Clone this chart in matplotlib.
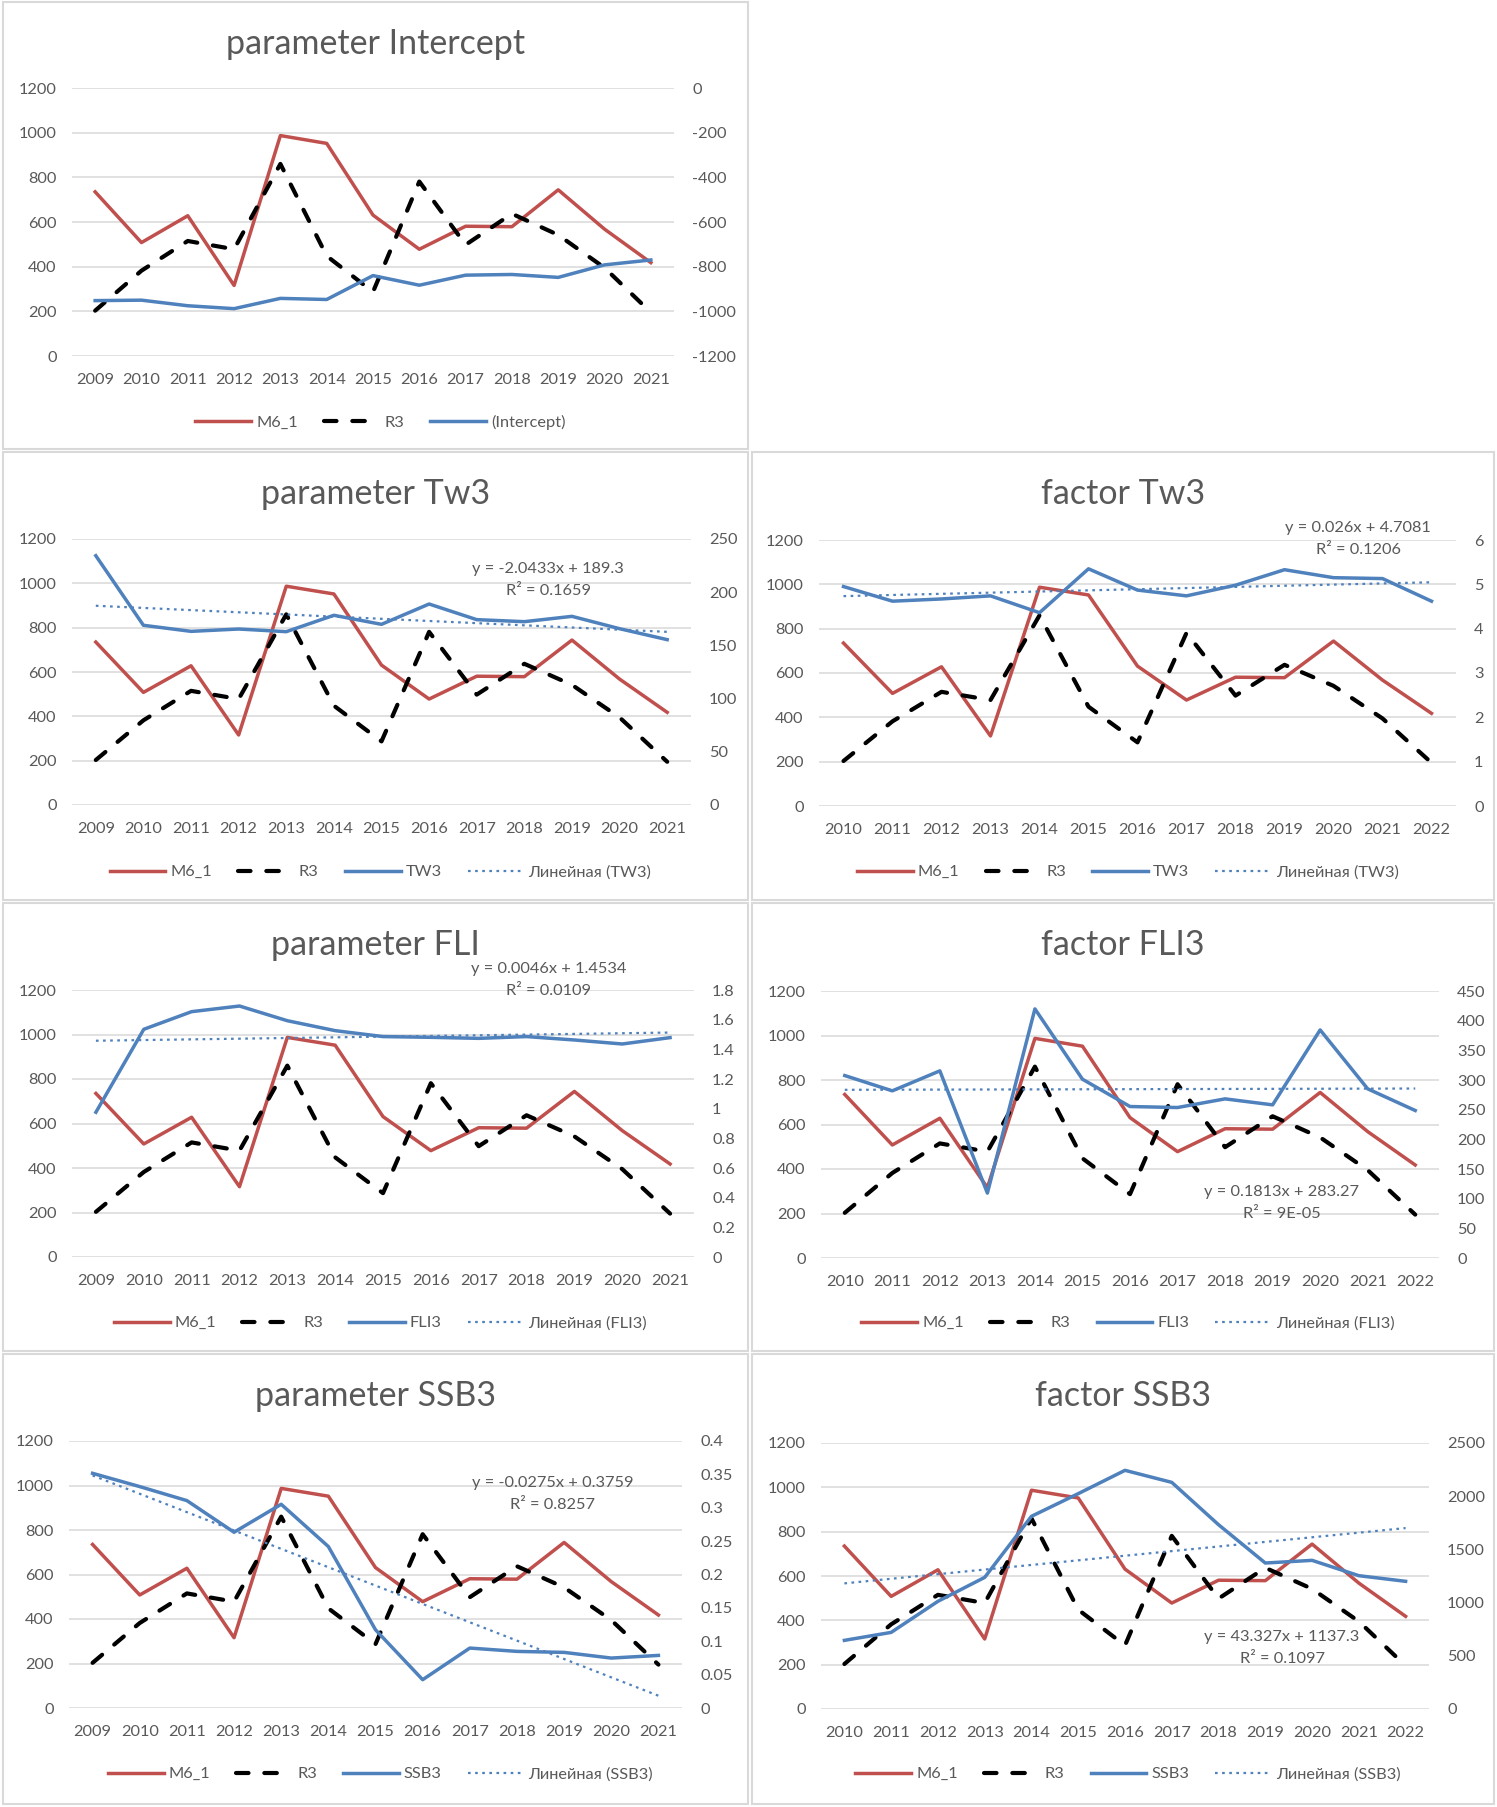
import matplotlib
matplotlib.use("Agg")
import matplotlib.pyplot as plt
from matplotlib.patches import Rectangle
import numpy as np

plt.rcParams["font.family"] = ["Lato", "DejaVu Sans"]

W, H = 1497, 1807
TXT = "#595959"
GRID = "#D9D9D9"
BORDER = "#D9D9D9"
RED = "#C0504D"
BLUE = "#4F81BD"

# --- data ---
YEARS_PARAM = ["2009", "2010", "2011", "2012", "2013", "2014", "2015",
               "2016", "2017", "2018", "2019", "2020", "2021"]
YEARS_FACTOR = ["2010", "2011", "2012", "2013", "2014", "2015", "2016",
                "2017", "2018", "2019", "2020", "2021", "2022"]

M6_1 = [735, 508, 628, 316, 987, 952, 631, 478, 581, 579, 744, 568, 418]
R3 = [203, 382, 515, 478, 860, 448, 287, 781, 498, 637, 542, 395, 195]

INTERCEPT = [-952, -950, -975, -988, -942, -947, -840, -883, -838, -835, -848, -792, -770]
TW3_PARAM = [234.3, 168.9, 163.2, 165.4, 162.9, 178.3, 169.8, 188.9, 174.2, 172.3, 177.3, 165.7, 155.4]
TW3_FACTOR = [4.95, 4.62, 4.67, 4.74, 4.36, 5.35, 4.87, 4.74, 4.98, 5.33, 5.15, 5.13, 4.62]
FLI_PARAM = [0.976, 1.535, 1.654, 1.692, 1.593, 1.526, 1.486, 1.481, 1.474, 1.486, 1.463, 1.436, 1.479]
FLI3_FACTOR = [307.5, 281.7, 315.4, 109.4, 419.8, 301.3, 255.3, 253.6, 268.2, 258.1, 384.4, 285.1, 248.6]
SSB3_PARAM = [0.3516, 0.3317, 0.3107, 0.2633, 0.3052, 0.2419, 0.1172, 0.0424, 0.0898, 0.0848, 0.0833, 0.0748, 0.0788]
SSB3_FACTOR = [645, 720, 1012, 1237, 1811, 2024, 2243, 2130, 1732, 1372, 1397, 1253, 1200]

# linear trendlines as printed on the charts: (slope, intercept, R^2 text)
TREND_TW3_PARAM = (-2.0433, 189.3, "0.1659")
TREND_TW3_FACTOR = (0.026, 4.7081, "0.1206")
TREND_FLI_PARAM = (0.0046, 1.4534, "0.0109")
TREND_FLI3_FACTOR = (0.1813, 283.27, "9E-05")
TREND_SSB3_PARAM = (-0.0275, 0.3759, "0.8257")
TREND_SSB3_FACTOR = (43.327, 1137.3, "0.1097")

fig = plt.figure(figsize=(W / 100, H / 100), dpi=100)


def frac(x0, y0, x1, y1):
    return [x0 / W, 1 - y1 / H, (x1 - x0) / W, (y1 - y0) / H]


def draw_panel(box, plot, title, years, blue, blue_name, rax, trend=None, eq_xy=None):
    bx0, by0, bx1, by1 = box
    fig.add_artist(Rectangle((bx0 / W, 1 - by1 / H), (bx1 - bx0) / W, (by1 - by0) / H,
                             transform=fig.transFigure, fill=False, ec=BORDER, lw=1.5))
    cx = (bx0 + bx1) / 2
    fig.text(cx / W, 1 - (by0 + 42) / H, title, ha="center", va="center",
             fontsize=24.5, color=TXT)

    ax = fig.add_axes(frac(*plot))
    x = np.arange(len(years))
    l1, = ax.plot(x, M6_1, color=RED, lw=2.5, label="M6_1")
    l2, = ax.plot(x, R3, color="black", lw=3.0, ls=(0, (3.0, 3.8)),
                  dash_capstyle="round", label="R3")
    ax.set_xlim(-0.5, len(years) - 0.5)
    ax.set_ylim(0, 1200)
    ax.set_yticks(np.arange(0, 1201, 200))
    ax.set_xticks(x, years)
    ax.grid(axis="y", color=GRID, lw=1.1)
    ax.set_axisbelow(True)
    for s in ax.spines.values():
        s.set_visible(False)
    ax.tick_params(axis="y", length=0, labelsize=11.8, colors=TXT, pad=11)
    ax.tick_params(axis="x", length=0, labelsize=11.8, colors=TXT, pad=12)

    ax2 = ax.twinx()
    lo, hi, step = rax
    l3, = ax2.plot(x, blue, color=BLUE, lw=2.5, label=blue_name)
    handles = [l1, l2, l3]
    ax2.set_ylim(lo, hi)
    ticks = np.arange(lo, hi + step / 2, step)
    ax2.set_yticks(ticks, [f"{round(t, 4):g}" for t in ticks])
    for s in ax2.spines.values():
        s.set_visible(False)
    ax2.tick_params(axis="y", length=0, labelsize=11.8, colors=TXT, pad=13)

    if trend is not None:
        a, b, r2 = trend
        xt = np.array([1, len(years)])
        l4, = ax2.plot(xt - 1, a * xt + b, color=BLUE, lw=1.6, ls=(0, (1.2, 2.0)),
                       label=f"Линейная ({blue_name})")
        handles.append(l4)
        ex, ey = eq_xy
        fig.text(ex / W, 1 - ey / H, f"y = {a:g}x + {b:g}", ha="center", va="center",
                 fontsize=11.8, color=TXT)
        fig.text(ex / W, 1 - (ey + 22) / H, f"R² = {r2}", ha="center", va="center",
                 fontsize=11.8, color=TXT)

    ax.legend(handles=handles, loc="center", bbox_to_anchor=((cx + 5) / W, 1 - (by0 + 420) / H),
              bbox_transform=fig.transFigure, ncol=len(handles), frameon=False,
              fontsize=11.8, handlelength=3.4, handletextpad=0.3, columnspacing=1.6,
              labelcolor=TXT)


ROWS = [(2, 449), (452, 900), (903, 1351), (1354, 1804)]
LEFT = (3, 748)
RIGHT = (752, 1494)

draw_panel((LEFT[0], ROWS[0][0], LEFT[1], ROWS[0][1]), (72, 88, 674, 356),
           "parameter Intercept", YEARS_PARAM, INTERCEPT, "(Intercept)", (-1200, 0, 200))
draw_panel((LEFT[0], ROWS[1][0], LEFT[1], ROWS[1][1]), (72, 539, 691, 805),
           "parameter Tw3", YEARS_PARAM, TW3_PARAM, "TW3", (0, 250, 50),
           TREND_TW3_PARAM, (548, 569))
draw_panel((RIGHT[0], ROWS[1][0], RIGHT[1], ROWS[1][1]), (819, 540, 1456, 806),
           "factor Tw3", YEARS_FACTOR, TW3_FACTOR, "TW3", (0, 6, 1),
           TREND_TW3_FACTOR, (1358, 528))
draw_panel((LEFT[0], ROWS[2][0], LEFT[1], ROWS[2][1]), (72, 990, 694, 1257),
           "parameter FLI", YEARS_PARAM, FLI_PARAM, "FLI3", (0, 1.8, 0.2),
           TREND_FLI_PARAM, (549, 969))
draw_panel((RIGHT[0], ROWS[2][0], RIGHT[1], ROWS[2][1]), (821, 991, 1439, 1258),
           "factor FLI3", YEARS_FACTOR, FLI3_FACTOR, "FLI3", (0, 450, 50),
           TREND_FLI3_FACTOR, (1282, 1192))
draw_panel((LEFT[0], ROWS[3][0], LEFT[1], ROWS[3][1]), (69, 1441, 682, 1708),
           "parameter SSB3", YEARS_PARAM, SSB3_PARAM, "SSB3", (0, 0.4, 0.05),
           TREND_SSB3_PARAM, (553, 1483))
draw_panel((RIGHT[0], ROWS[3][0], RIGHT[1], ROWS[3][1]), (821, 1443, 1429, 1709),
           "factor SSB3", YEARS_FACTOR, SSB3_FACTOR, "SSB3", (0, 2500, 500),
           TREND_SSB3_FACTOR, (1282, 1637))

fig.savefig("out.png", dpi=100, facecolor="white")
